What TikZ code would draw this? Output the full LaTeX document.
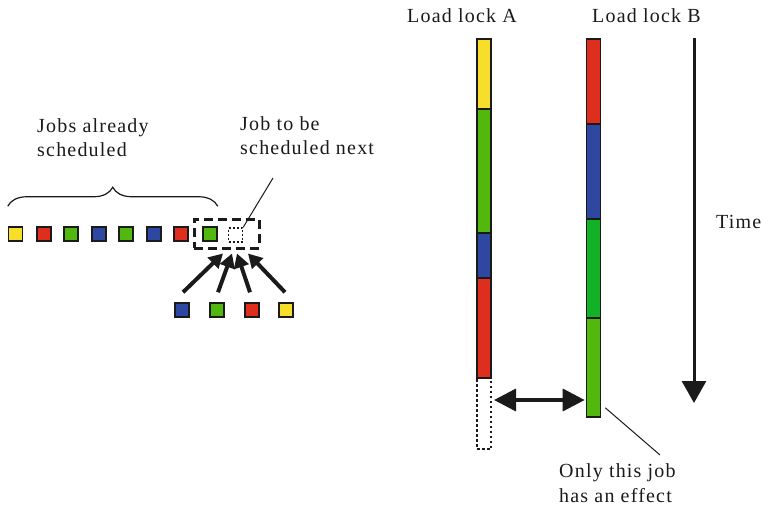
\documentclass[tikz,border=0pt]{standalone}
\usepackage{fontspec}
\setmainfont[LetterSpace=6]{Liberation Serif}
\usetikzlibrary{arrows.meta,decorations.pathreplacing,calc}
\definecolor{jobyellow}{HTML}{F7DE2A}
\definecolor{jobred}{HTML}{DE2E1E}
\definecolor{jobgreen}{HTML}{52B80E}
\definecolor{jobdkgreen}{HTML}{12B226}
\definecolor{jobblue}{HTML}{2E47A0}
\definecolor{ink}{HTML}{1A1A1A}
\begin{document}
\begin{tikzpicture}[x=1pt,y=-1pt,
  every node/.style={font=\fontsize{20}{24.5}\selectfont, text=ink},
  sq/.style={draw=ink, line width=1.5pt, minimum size=14pt, inner sep=0pt},
  seg/.style={draw=ink, line width=1.6pt, minimum width=14pt, inner sep=0pt},
  lbl/.style={anchor=base west, inner sep=0pt, align=left},
  pick/.style={draw=ink, line width=4pt, -{Triangle[length=14pt,width=15pt]}},
  leader/.style={draw=ink, line width=1pt}]
\useasboundingbox (0,0) rectangle (763,508);

% --- sequence of jobs already scheduled ---
\node[sq, fill=jobyellow] (s1) at (15.5,234) {};
\node[sq, fill=jobred]    (s2) at (44,234) {};
\node[sq, fill=jobgreen]  (s3) at (71,234) {};
\node[sq, fill=jobblue]   (s4) at (99,234) {};
\node[sq, fill=jobgreen]  (s5) at (126,234) {};
\node[sq, fill=jobblue]   (s6) at (154,234) {};
\node[sq, fill=jobred]    (s7) at (181,234) {};
\node[sq, fill=jobgreen]  (s8) at (210,234) {};
\node[sq, line width=1.4pt, dash pattern=on 2pt off 2pt] (s9) at (235.5,235) {};

% window around the last job and the open slot
\node[draw=ink, line width=3pt, dash pattern=on 9pt off 5pt,
      minimum width=65pt, minimum height=29pt, inner sep=0pt] (win) at (226.5,233.5) {};

% brace over the scheduled jobs
\draw[ink, line width=1.2pt, decorate, decoration={brace, amplitude=19pt}]
  ($(s1.north west)+(0,-20)$) -- ($(s8.north east)+(0,-20)$);

% multi-line labels are placed by the baseline of their last line
\node[lbl] (done) at (37,157) {Jobs already\\scheduled};
\node[lbl] (next) at (240,155) {Job to be\\scheduled next};
\coordinate (nextend) at (273,178);
\draw[leader] (nextend) -- (s9.north east);

% candidate jobs
\node[sq, fill=jobblue]   (c1) at (182,310) {};
\node[sq, fill=jobgreen]  (c2) at (217,310) {};
\node[sq, fill=jobred]    (c3) at (252,310) {};
\node[sq, fill=jobyellow] (c4) at (286,310) {};

\draw[pick] ($(c1.north)+(1,-10)$) -- ($(win.south)+(-3.5,4)$);
\draw[pick] ($(c2.north)+(1,-10)$) -- ($(win.south)+(5.5,4)$);
\draw[pick] ($(c3.north)+(-2,-10)$) -- ($(win.south)+(10.5,4)$);
\draw[pick] ($(c4.north)+(-1,-10)$) -- ($(win.south)+(21.5,4)$);

% --- load lock A ---
\node[lbl] (llA) at (407,23) {Load lock A};
\node[seg, fill=jobyellow, minimum height=70pt]  (a1) at (484,74) {};
\node[seg, fill=jobgreen,  minimum height=124pt] (a2) at (484,171) {};
\node[seg, fill=jobblue,   minimum height=45pt]  (a3) at (484,255.5) {};
\node[seg, fill=jobred,    minimum height=100pt] (a4) at (484,328) {};
\node[seg, line width=2pt, dash pattern=on 2.5pt off 2.5pt, minimum height=71pt] (a5) at (484,413.5) {};

% --- load lock B ---
\node[lbl] (llB) at (592,23) {Load lock B};
\node[seg, fill=jobred,     minimum height=85pt] (b1) at (593.5,81.5) {};
\node[seg, fill=jobblue,    minimum height=95pt] (b2) at (593.5,171.5) {};
\node[seg, fill=jobdkgreen, minimum height=99pt] (b3) at (593.5,268.5) {};
\node[seg, fill=jobgreen,   minimum height=99pt] (b4) at (593.5,367.5) {};

% gap between the two load locks
\draw[ink, line width=3.5pt, {Triangle[length=22pt,width=22pt]}-{Triangle[length=22pt,width=22pt]}]
  ($(a5.east |- 0,400)+(2,0)$) -- ($(b4.west |- 0,400)+(-1,0)$);

\node[lbl] (effect) at (559,502) {Only this job\\has an effect};
\coordinate (effend) at (660,455);
\draw[leader] ($(b4.south east)+(4,-10)$) -- (effend);

% --- time axis ---
\node[lbl] (time) at (716,228) {Time};
\coordinate (t0) at (694,38);
\coordinate (t1) at (694,403);
\draw[ink, line width=3pt, -{Triangle[length=22pt,width=24pt]}] (t0) -- (t1);
\end{tikzpicture}
\end{document}
